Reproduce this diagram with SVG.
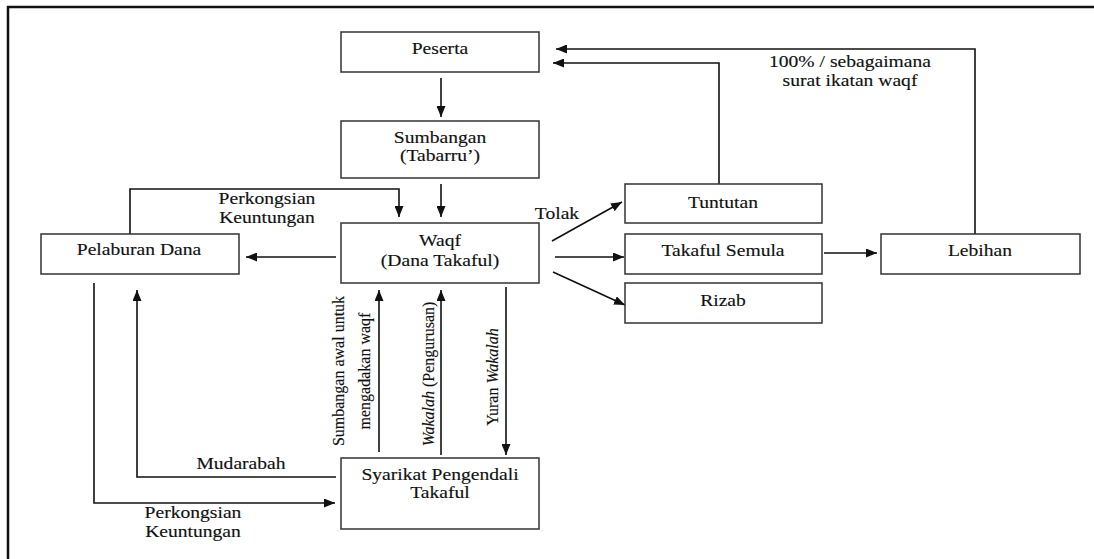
<svg xmlns="http://www.w3.org/2000/svg" width="1094" height="559" viewBox="0 0 1094 559">
<style>
.box{fill:#fff;stroke:#333;stroke-width:1.5}
.ln{fill:none;stroke:#111;stroke-width:1.6}
.t{font-family:"Liberation Serif","Times New Roman",serif;font-size:17.5px;fill:#111;stroke:#111;stroke-width:0.15;text-anchor:middle}
.r{font-family:"Liberation Serif","Times New Roman",serif;font-size:16px;fill:#111;stroke:#111;stroke-width:0.15;text-anchor:middle}
.frame{fill:none;stroke:#111;stroke-width:2.5}
</style>
<defs>
<marker id="ah" markerUnits="userSpaceOnUse" markerWidth="11" markerHeight="9" refX="11" refY="4.5" orient="auto">
<path d="M0,0 L11,4.5 L0,9 z" fill="#111"/>
</marker>
</defs>
<rect width="1094" height="559" fill="#fff"/>
<path class="frame" d="M8,559 L8,7 L1094,7"/>
<g id="connectors">
<line class="ln" x1="441" y1="78" x2="441" y2="117" marker-end="url(#ah)"/>
<line class="ln" x1="441" y1="184" x2="441" y2="217" marker-end="url(#ah)"/>
<line class="ln" x1="336" y1="257" x2="246" y2="257" marker-end="url(#ah)"/>
<polyline class="ln" points="130,234 130,189 399,189 399,217" marker-end="url(#ah)"/>
<line class="ln" x1="552" y1="241" x2="622" y2="202" marker-end="url(#ah)"/>
<line class="ln" x1="555" y1="257" x2="624" y2="257" marker-end="url(#ah)"/>
<line class="ln" x1="553" y1="272" x2="625" y2="305" marker-end="url(#ah)"/>
<line class="ln" x1="824" y1="253" x2="877" y2="253" marker-end="url(#ah)"/>
<polyline class="ln" points="719,184 719,63 553,63" marker-end="url(#ah)"/>
<polyline class="ln" points="975,234 975,49 556,49" marker-end="url(#ah)"/>
<polyline class="ln" points="94,283 94,503 335,503" marker-end="url(#ah)"/>
<polyline class="ln" points="336,477 137,477 137,290" marker-end="url(#ah)"/>
<line class="ln" x1="379" y1="452" x2="379" y2="290" marker-end="url(#ah)"/>
<line class="ln" x1="441" y1="455" x2="441" y2="290" marker-end="url(#ah)"/>
<line class="ln" x1="506" y1="287" x2="506" y2="455" marker-end="url(#ah)"/>
<text class="t" transform="scale(1.12 1)" x="238.39" y="204">Perkongsian</text>
<text class="t" transform="scale(1.12 1)" x="238.39" y="223">Keuntungan</text>
<text class="t" transform="scale(1.12 1)" x="497.32" y="219">Tolak</text>
<text class="t" transform="scale(1.12 1)" x="758.93" y="67">100% / sebagaimana</text>
<text class="t" transform="scale(1.12 1)" x="758.93" y="86">surat ikatan waqf</text>
<text class="t" transform="scale(1.12 1)" x="215.18" y="469">Mudarabah</text>
<text class="t" transform="scale(1.12 1)" x="172.32" y="518">Perkongsian</text>
<text class="t" transform="scale(1.12 1)" x="172.32" y="537">Keuntungan</text>
<text class="r" transform="translate(344,371) rotate(-90)">Sumbangan awal untuk</text>
<text class="r" transform="translate(370,371) rotate(-90)">mengadakan waqf</text>
<text class="r" transform="translate(434,374) rotate(-90)"><tspan font-style="italic">Wakalah</tspan> (Pengurusan)</text>
<text class="r" transform="translate(498,377) rotate(-90)">Yuran <tspan font-style="italic">Wakalah</tspan></text>
</g>
<g id="peserta"><rect class="box" x="341" y="32" width="198" height="40"/><text class="t" transform="scale(1.12 1)" x="392.86" y="54">Peserta</text></g>
<g id="sumbangan"><rect class="box" x="341" y="121" width="198" height="57"/><text class="t" transform="scale(1.12 1)" x="392.86" y="143">Sumbangan</text><text class="t" transform="scale(1.12 1)" x="392.86" y="161">(Tabarru’)</text></g>
<g id="waqf"><rect class="box" x="341" y="223" width="198" height="60"/><text class="t" transform="scale(1.12 1)" x="392.86" y="246">Waqf</text><text class="t" transform="scale(1.12 1)" x="392.86" y="266">(Dana Takaful)</text></g>
<g id="pelaburan"><rect class="box" x="41" y="234" width="198" height="40"/><text class="t" transform="scale(1.12 1)" x="124.11" y="255">Pelaburan Dana</text></g>
<g id="tuntutan"><rect class="box" x="625" y="184" width="197" height="39"/><text class="t" transform="scale(1.12 1)" x="645.54" y="208">Tuntutan</text></g>
<g id="takaful-semula"><rect class="box" x="625" y="234" width="197" height="40"/><text class="t" transform="scale(1.12 1)" x="645.54" y="256">Takaful Semula</text></g>
<g id="rizab"><rect class="box" x="625" y="283" width="197" height="40"/><text class="t" transform="scale(1.12 1)" x="645.54" y="306">Rizab</text></g>
<g id="lebihan"><rect class="box" x="881" y="234" width="199" height="40"/><text class="t" transform="scale(1.12 1)" x="875" y="256">Lebihan</text></g>
<g id="syarikat"><rect class="box" x="341" y="458" width="198" height="71"/><text class="t" transform="scale(1.12 1)" x="392.86" y="480">Syarikat Pengendali</text><text class="t" transform="scale(1.12 1)" x="392.86" y="498">Takaful</text></g>
</svg>
